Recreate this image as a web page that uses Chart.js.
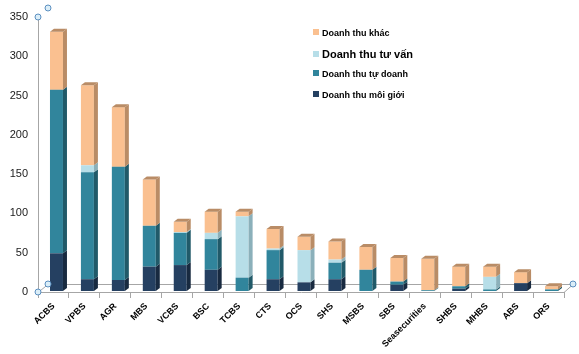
<!DOCTYPE html>
<html>
<head>
<meta charset="utf-8">
<script src="https://cdn.jsdelivr.net/npm/chart.js@4"></script>
<style>
  body { margin: 0; background: #fff; }
  #wrap { position: relative; width: 579px; height: 354px; }
  #legend { position: absolute; left: 313px; top: 27px; font-family: "Liberation Sans", Arial, sans-serif; font-weight: bold; color: #000; }
  #legend div { position: absolute; left: 0; white-space: nowrap; line-height: 12px; }
  #legend span { display: inline-block; width: 6px; height: 6px; margin-right: 3px; vertical-align: 1px; }
</style>
</head>
<body>
<div id="wrap">
  <canvas id="chart" width="579" height="354"></canvas>
  <div id="legend"></div>
</div>
<script>
const categories = ["ACBS", "VPBS", "AGR", "MBS", "VCBS", "BSC", "TCBS", "CTS", "OCS", "SHS", "MSBS", "SBS", "Seasecurities", "SHBS", "MHBS", "ABS", "ORS"];
const moiGioi = [48, 15, 14, 31, 33, 27, 0, 15, 11, 15, 0, 8, 0, 3, 0, 10, 0];
const tuDoanh = [208, 136, 144, 52, 41, 39, 17, 37, 0, 21, 27, 4, 1, 3, 2, 0, 2];
const tuVan = [0, 9, 0, 0, 1, 8, 78, 2, 41, 4, 0, 0, 0, 0, 16, 0, 0];
const khac = [74, 102, 76, 59, 13, 27, 6, 25, 17, 23, 29, 30, 40, 25, 13, 14, 4];
const yTicks = [0, 50, 100, 150, 200, 250, 300, 350];

// front colour, side colour
const series = [
  { label: "Doanh thu môi giới", data: moiGioi, color: "#254061", side: "#182a40", size: 9 },
  { label: "Doanh thu tự doanh", data: tuDoanh, color: "#31859c", side: "#215a69", size: 9 },
  { label: "Doanh thu tư vấn", data: tuVan, color: "#b7dee8", side: "#8bb0ba", size: 11 },
  { label: "Doanh thu khác", data: khac, color: "#fac090", side: "#b98c66", size: 9 },
];

const DX = 4, DY = 3;

// fake excel 3d look: side + top faces, floor, selection handles
const bars3d = {
  id: "bars3d",
  beforeDatasetsDraw(chart) {
    const { ctx, chartArea: a } = chart;
    ctx.save();
    ctx.strokeStyle = "#a6a6a6";
    ctx.lineWidth = 1;
    ctx.beginPath();
    ctx.moveTo(a.left, a.bottom + 0.5);
    ctx.lineTo(a.left + 10, a.bottom - 7.5);
    ctx.lineTo(a.right + 9, a.bottom - 7.5);
    ctx.lineTo(a.right, a.bottom + 0.5);
    ctx.stroke();
    ctx.restore();
    ctx.save();
    ctx.translate(3, -1);
  },
  afterDatasetsDraw(chart) {
    const { ctx, chartArea: a } = chart;
    const metas = chart.getSortedVisibleDatasetMetas();
    categories.forEach((c, i) => {
      let topIdx = -1;
      metas.forEach((m, k) => { if (series[k].data[i] > 0) topIdx = k; });
      metas.forEach((m, k) => {
        if (series[k].data[i] <= 0) return;
        const el = m.data[i];
        const r = el.x + el.width / 2, l = el.x - el.width / 2;
        ctx.fillStyle = series[k].side;
        ctx.beginPath();
        ctx.moveTo(r, el.y);
        ctx.lineTo(r + DX, el.y - DY);
        ctx.lineTo(r + DX, el.base - DY);
        ctx.lineTo(r, el.base);
        ctx.closePath();
        ctx.fill();
        if (k === topIdx) {
          ctx.beginPath();
          ctx.moveTo(l, el.y);
          ctx.lineTo(l + DX, el.y - DY);
          ctx.lineTo(r + DX, el.y - DY);
          ctx.lineTo(r, el.y);
          ctx.closePath();
          ctx.fill();
        }
      });
    });
    ctx.restore();

    ctx.save();
    ctx.fillStyle = "#dbeef8";
    ctx.strokeStyle = "#5b8fc0";
    ctx.lineWidth = 1;
    [[a.left, a.top], [a.left + 10, a.top - 9], [a.left, a.bottom], [a.left + 10, a.bottom - 8], [a.right + 9, a.bottom - 8]].forEach(([x, y]) => {
      ctx.beginPath();
      ctx.arc(x, y, 3, 0, Math.PI * 2);
      ctx.fill();
      ctx.stroke();
    });
    ctx.restore();
  },
};

new Chart(document.getElementById("chart"), {
  type: "bar",
  data: {
    labels: categories,
    datasets: series.map((s) => ({
      label: s.label,
      data: s.data,
      backgroundColor: s.color,
      borderWidth: 0,
      barPercentage: 0.42,
      categoryPercentage: 1,
    })),
  },
  options: {
    responsive: false,
    animation: false,
    devicePixelRatio: 1,
    layout: { padding: { top: 17, right: 15, left: 0, bottom: 0 } },
    plugins: { legend: { display: false }, tooltip: { enabled: false } },
    scales: {
      x: {
        stacked: true,
        afterFit: (s) => { s.height = 62; },
        grid: { drawOnChartArea: false, tickLength: 6, color: "#a6a6a6", offset: true },
        border: { color: "#a6a6a6" },
        ticks: {
          autoSkip: false,
          maxRotation: 45,
          minRotation: 45,
          padding: 3,
          color: "#000",
          font: { family: "Liberation Sans", size: 9, weight: "bold" },
        },
      },
      y: {
        stacked: true,
        min: 0,
        max: 350,
        afterFit: (s) => { s.width = 38; },
        afterBuildTicks: (s) => { s.ticks = yTicks.map((v) => ({ value: v })); },
        grid: { display: false, drawTicks: false },
        border: { color: "#a6a6a6" },
        ticks: {
          padding: 10,
          color: "#1a1a1a",
          font: { family: "Liberation Sans", size: 11 },
        },
      },
    },
  },
  plugins: [bars3d],
});

const legend = document.getElementById("legend");
series.slice().reverse().forEach((s, i) => {
  const row = document.createElement("div");
  row.style.top = i * 20.5 + "px";
  row.style.fontSize = s.size + "px";
  row.innerHTML = `<span style="background:${s.color}"></span>${s.label}`;
  legend.appendChild(row);
});
</script>
</body>
</html>
